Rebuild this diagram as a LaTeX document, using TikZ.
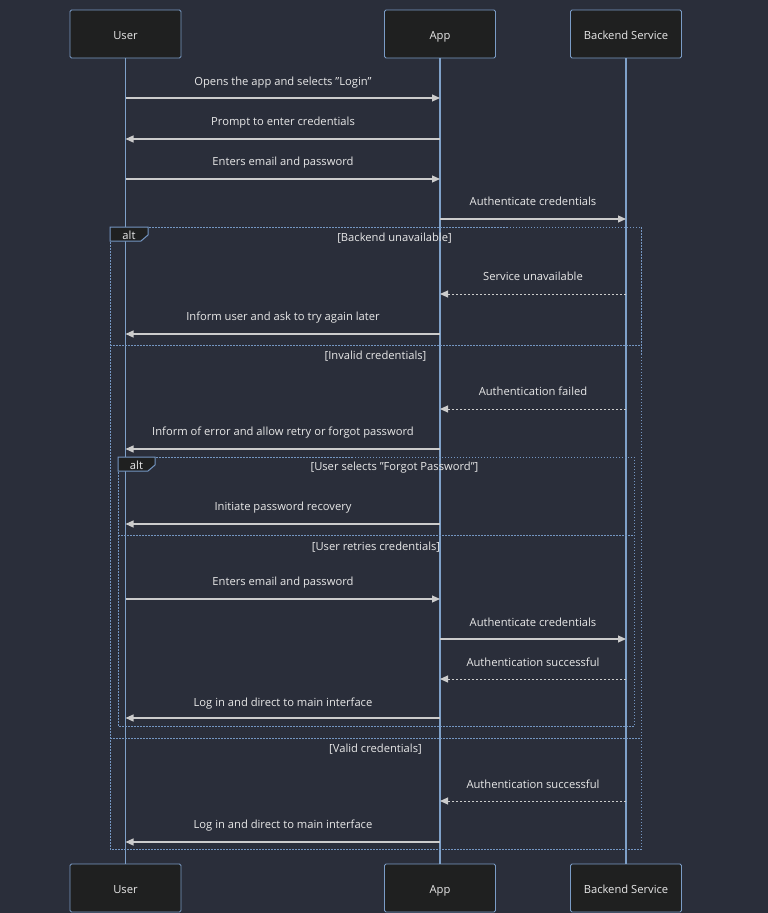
\documentclass[tikz,border=0pt]{standalone}
\usepackage{fontspec}
\setmainfont{Open Sans}
\usetikzlibrary{arrows.meta,positioning,calc}

\definecolor{bgcol}{HTML}{2A2E3A}
\definecolor{boxfill}{HTML}{1F2020}
\definecolor{boxline}{HTML}{7A9CC6}
\definecolor{lifecol}{HTML}{7FA1C9}
\definecolor{msgcol}{HTML}{CCCCCC}
\definecolor{txtcol}{HTML}{E8E8E8}
\definecolor{framecol}{HTML}{7496C2}

\tikzset{
  actor/.style={draw=boxline, fill=boxfill, rounded corners=1.5pt, line width=0.9pt,
    minimum width=111pt, minimum height=48pt, inner sep=0pt, text=txtcol,
    text height=10.5pt, text depth=0pt, font=\fontsize{11.2}{13}\selectfont},
  life/.style={draw=lifecol, line width=1.2pt},
  msg/.style={draw=msgcol, line width=1.1pt, -{Triangle[length=8pt,width=7pt]}},
  reply/.style={msg, line width=1pt, dash pattern=on 2pt off 2pt},
  lbl/.style={text=txtcol, inner sep=0pt, text height=10.5pt, text depth=0pt,
    font=\fontsize{11.2}{13}\selectfont},
  frame/.style={draw=framecol, line width=1pt, dash pattern=on 1.5pt off 1.5pt},
  altbox/.style={draw=framecol, fill=boxfill, line width=1pt},
}

\begin{document}
\begin{tikzpicture}[x=1pt, y=-1pt]
  \fill[bgcol] (0,0) rectangle (768,913);
  \useasboundingbox (0,0) rectangle (768,913);

  % participants
  \node[actor] (User) at (125.5, 34) {User};
  \node[actor] (App) at (440, 34) {App};
  \node[actor] (Backend) at (626, 34) {Backend Service};
  \node[actor] (UserB) at (125.5, 888) {User};
  \node[actor] (AppB) at (440, 888) {App};
  \node[actor] (BackendB) at (626, 888) {Backend Service};

  \draw[life] (User) -- (UserB);
  \draw[life] (App) -- (AppB);
  \draw[life] (Backend) -- (BackendB);

  % outer alt frame
  \draw[frame] (110,227) rectangle (641,849);
  \draw[frame] (110,345) -- (641,345);
  \draw[frame] (110,738) -- (641,738);
  \draw[altbox] (110,227) -- (148,227) -- (148,235) -- (141,241) -- (110,241) -- cycle;
  \node[lbl] (alt1) at (129,234) {alt};
  \node[lbl] (c1) at (394.5,236) {[Backend unavailable]};
  \node[lbl] (c2) at (375.5,354) {[Invalid credentials]};
  \node[lbl] (c3) at (375.5,747) {[Valid credentials]};

  % inner alt frame
  \draw[frame] (118,457) rectangle (634,726);
  \draw[frame] (118,535) -- (634,535);
  \draw[altbox] (118,457) -- (155,457) -- (155,465) -- (148,471) -- (118,471) -- cycle;
  \node[lbl] (alt2) at (136.5,464) {alt};
  \node[lbl] (c4) at (394.5,465) {[User selects "Forgot Password"]};
  \node[lbl] (c5) at (376,545) {[User retries credentials]};

  % messages
  \draw[msg] (User |- 0,98) -- (App |- 0,98);
  \node[lbl] (m1) at (283,80) {Opens the app and selects "Login"};
  \draw[msg] (App |- 0,139) -- (User |- 0,139);
  \node[lbl] (m2) at (283,120) {Prompt to enter credentials};
  \draw[msg] (User |- 0,179) -- (App |- 0,179);
  \node[lbl] (m3) at (283,160) {Enters email and password};
  \draw[msg] (App |- 0,219) -- (Backend |- 0,219);
  \node[lbl] (m4) at (533,200) {Authenticate credentials};

  \draw[reply] (Backend |- 0,294) -- (App |- 0,294);
  \node[lbl] (m5) at (533,275) {Service unavailable};
  \draw[msg] (App |- 0,334) -- (User |- 0,334);
  \node[lbl] (m6) at (283,315) {Inform user and ask to try again later};

  \draw[reply] (Backend |- 0,409) -- (App |- 0,409);
  \node[lbl] (m7) at (533,390) {Authentication failed};
  \draw[msg] (App |- 0,449) -- (User |- 0,449);
  \node[lbl] (m8) at (283,430) {Inform of error and allow retry or forgot password};

  \draw[msg] (App |- 0,524) -- (User |- 0,524);
  \node[lbl] (m9) at (283,505) {Initiate password recovery};

  \draw[msg] (User |- 0,599) -- (App |- 0,599);
  \node[lbl] (m10) at (283,580) {Enters email and password};
  \draw[msg] (App |- 0,639) -- (Backend |- 0,639);
  \node[lbl] (m11) at (533,621) {Authenticate credentials};
  \draw[reply] (Backend |- 0,679) -- (App |- 0,679);
  \node[lbl] (m12) at (533,661) {Authentication successful};
  \draw[msg] (App |- 0,718) -- (User |- 0,718);
  \node[lbl] (m13) at (283,701) {Log in and direct to main interface};

  \draw[reply] (Backend |- 0,801) -- (App |- 0,801);
  \node[lbl] (m14) at (533,783) {Authentication successful};
  \draw[msg] (App |- 0,842) -- (User |- 0,842);
  \node[lbl] (m15) at (283,823) {Log in and direct to main interface};
\end{tikzpicture}
\end{document}
